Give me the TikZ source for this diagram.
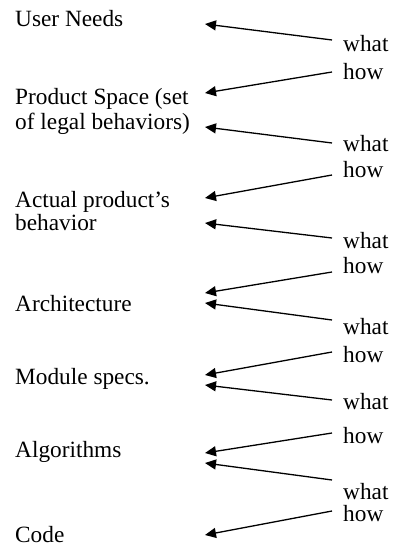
\documentclass[tikz,border=0pt]{standalone}
\usepackage{fontspec}
\setmainfont{Liberation Serif}
\usetikzlibrary{arrows.meta}

\begin{document}
\begin{tikzpicture}[x=1pt, y=-1pt,
    every node/.style={inner sep=0pt, anchor=base west, font=\fontsize{23.3}{24.5}\selectfont},
    arr/.style={line width=1.3pt, -{Triangle[length=11pt,width=10pt]}}]
        \useasboundingbox (0,0) rectangle (394,548);

        % Levels
        \node (user) at (15,27) {User Needs};
        \node (space) at (15,105) {Product Space (set};
        \node (space2) at (15,130) {of legal behaviors)};
        \node (actual) at (15,207) {Actual product's};
        \node (actual2) at (15,230) {behavior};
        \node (arch) at (15,311) {Architecture};
        \node (module) at (15,384) {Module specs.};
        \node (algo) at (15,457) {Algorithms};
        \node (code) at (15,542) {Code};

        % what / how
        \node (what1) at (343,52) {what};
        \node (how1) at (343,80) {how};
        \node (what2) at (343,152) {what};
        \node (how2) at (343,178) {how};
        \node (what3) at (343,248) {what};
        \node (how3) at (343,273) {how};
        \node (what4) at (343,334) {what};
        \node (how4) at (343,362) {how};
        \node (what5) at (343,409) {what};
        \node (how5) at (343,443) {how};
        \node (what6) at (343,499) {what};
        \node (how6) at (343,521) {how};

        % Arrow ends
        \coordinate (tu) at (205,24);
        \coordinate (ts1) at (205,93);
        \coordinate (ts2) at (205,127);
        \coordinate (ta1) at (205,198);
        \coordinate (ta2) at (205,223);
        \coordinate (tr1) at (205,293);
        \coordinate (tr2) at (205,303);
        \coordinate (tm1) at (205,375);
        \coordinate (tm2) at (205,385);
        \coordinate (tg1) at (205,453);
        \coordinate (tg2) at (205,463);
        \coordinate (tc) at (205,535);

        \coordinate (fw1) at (332,40);
        \coordinate (fh1) at (332,72);
        \coordinate (fw2) at (332,143);
        \coordinate (fh2) at (332,175);
        \coordinate (fw3) at (332,238);
        \coordinate (fh3) at (332,272);
        \coordinate (fw4) at (332,320);
        \coordinate (fh4) at (332,352);
        \coordinate (fw5) at (332,400);
        \coordinate (fh5) at (332,433);
        \coordinate (fw6) at (332,480);
        \coordinate (fh6) at (332,511);

        % Arrows
        \draw[arr] (fw1) -- (tu);
        \draw[arr] (fh1) -- (ts1);
        \draw[arr] (fw2) -- (ts2);
        \draw[arr] (fh2) -- (ta1);
        \draw[arr] (fw3) -- (ta2);
        \draw[arr] (fh3) -- (tr1);
        \draw[arr] (fw4) -- (tr2);
        \draw[arr] (fh4) -- (tm1);
        \draw[arr] (fw5) -- (tm2);
        \draw[arr] (fh5) -- (tg1);
        \draw[arr] (fw6) -- (tg2);
        \draw[arr] (fh6) -- (tc);
    \end{tikzpicture}
\end{document}
